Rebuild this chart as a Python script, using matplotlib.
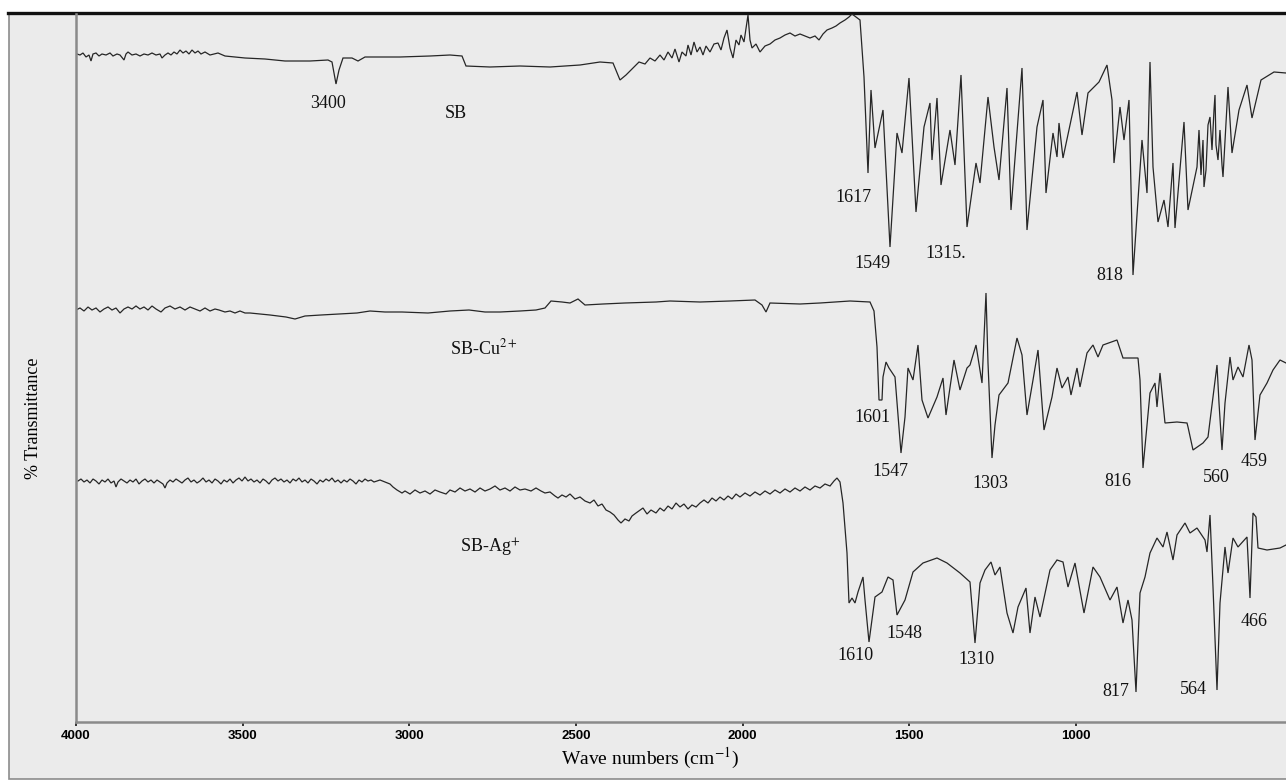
import matplotlib
matplotlib.use("Agg")
import matplotlib.pyplot as plt
from matplotlib.patches import Rectangle
from matplotlib.lines import Line2D

plt.rcParams['mathtext.fontset'] = 'stix'

# ---------------- data (wavenumber cm-1, transmittance in arbitrary offset units) -------------
sb_wn = [3997, 3988, 3979, 3970, 3961, 3955, 3949, 3940, 3931, 3922, 3910, 3898, 3889, 3877, 3868,
         3856, 3850, 3844, 3832, 3820, 3808, 3796, 3784, 3772, 3760, 3748, 3742, 3733, 3724, 3715,
         3706, 3697, 3688, 3679, 3670, 3661, 3652, 3643, 3634, 3625, 3613, 3598, 3586, 3574,
         3553, 3493, 3433, 3373, 3298, 3244, 3232, 3220, 3211, 3199, 3172, 3154, 3133,
         3028, 2938, 2878, 2842, 2830, 2758, 2668, 2578, 2488, 2428, 2389, 2368, 2350,
         2311, 2293, 2278, 2263, 2248, 2236, 2224, 2212, 2203, 2191, 2182, 2170, 2164, 2155, 2146,
         2137, 2128, 2119, 2110, 2098, 2086, 2074, 2065, 2056, 2047, 2038, 2029, 2020, 2011, 2005,
         1996, 1984, 1978, 1972, 1960, 1948, 1933, 1918, 1903, 1888, 1873, 1858, 1843, 1828, 1813,
         1798, 1783, 1771, 1759, 1747, 1732, 1720, 1708, 1693, 1681, 1672, 1660, 1648,
         1636, 1624, 1615, 1603, 1579, 1558, 1537, 1522, 1501, 1480,
         1456, 1438, 1432, 1417, 1405, 1378, 1363, 1345, 1327, 1300, 1288, 1264, 1246, 1231, 1207,
         1195, 1162, 1147, 1117, 1099, 1090, 1069, 1057, 1051, 1039, 997, 982, 964, 931, 907,
         892, 886, 868, 856, 841, 829, 802, 787, 778, 769, 754, 736, 724, 709, 703,
         676, 664, 637, 631, 625, 619, 616, 610, 604, 598, 592, 586, 583, 580, 574, 568, 562, 559,
         544, 532, 511, 487, 472, 445, 406, 370]
sb_t = [668, 667, 669, 665, 667, 661, 668, 669, 666, 668, 667, 669, 666, 668, 667,
        662, 668, 670, 667, 668, 666, 668, 667, 669, 667, 668, 664, 667, 669, 667,
        670, 668, 672, 669, 671, 668, 672, 669, 671, 668, 670, 667, 668, 669,
        666, 664, 663, 661, 661, 662, 660, 638, 652, 664, 664, 661, 665,
        665, 666, 667, 666, 656, 655, 656, 655, 657, 660, 659, 642, 647,
        660, 658, 664, 661, 667, 662, 670, 664, 673, 660, 670, 666, 677, 667, 680,
        670, 675, 667, 676, 670, 678, 679, 672, 684, 692, 674, 664, 682, 677, 687,
        680, 707, 682, 674, 678, 670, 676, 678, 682, 684, 687, 689, 686, 688, 686,
        684, 686, 682, 688, 692, 694, 696, 699, 702, 705, 708, 705, 702,
        645, 549, 632, 574, 612, 475, 589, 569, 644, 510,
        595, 619, 562, 624, 537, 592, 557, 647, 495, 559, 539, 625, 575, 542, 634,
        512, 654, 492, 595, 622, 529, 589, 565, 599, 564, 630, 587, 629, 640, 657,
        622, 559, 615, 582, 622, 447, 582, 529, 660, 555, 500, 522, 495, 559, 494,
        600, 512, 555, 592, 547, 582, 535, 552, 597, 605, 572, 612, 627, 577, 562, 592, 557, 545,
        635, 569, 612, 637, 604, 642, 650, 649]

cu_wn = [4000, 3988, 3976, 3964, 3952, 3940, 3928, 3916, 3904, 3892, 3880, 3868, 3856, 3844, 3832,
         3820, 3808, 3796, 3784, 3772, 3760, 3745, 3733, 3718, 3703, 3688, 3673, 3658, 3643, 3628,
         3613, 3598, 3583, 3571, 3553, 3538, 3523, 3508, 3493, 3478,
         3418, 3370, 3343, 3313, 3265, 3208, 3157, 3118, 3073, 3022, 2944, 2878, 2821, 2773, 2728,
         2668, 2620, 2593, 2575, 2542, 2518, 2494, 2473, 2419, 2353, 2260, 2218, 2128, 2038, 1963,
         1942, 1930, 1918, 1828, 1768, 1678, 1618, 1606, 1597, 1591, 1582, 1579, 1570, 1561, 1543,
         1525, 1513, 1504, 1489, 1474, 1462, 1444, 1417, 1399, 1390, 1366, 1348, 1327, 1318, 1300,
         1282, 1270, 1264, 1252, 1243, 1231, 1204, 1177, 1162, 1147, 1129, 1114, 1096, 1072, 1057,
         1042, 1024, 1015, 997, 988, 967, 949, 934, 919, 877, 859, 814, 808, 799, 778,
         763, 757, 748, 733, 697, 667, 664, 649, 619, 604, 589, 577, 571, 562, 553,
         538, 529, 514, 499, 481, 472, 463, 448, 427, 409, 388, 370]
cu_t = [412, 414, 411, 415, 412, 414, 410, 413, 415, 412, 414, 409, 413, 415, 413,
        416, 413, 415, 412, 416, 413, 410, 414, 416, 413, 415, 412, 415, 413, 411,
        414, 411, 413, 412, 410, 411, 409, 411, 409, 409,
        407, 405, 403, 406, 407, 408, 409, 411, 410, 410, 409, 411, 412, 410, 410,
        411, 412, 414, 421, 420, 419, 423, 417, 418, 419, 420, 421, 420, 421, 422,
        417, 410, 419, 418, 419, 421, 420, 411, 375, 322, 322, 345, 360, 354, 345,
        269, 305, 354, 342, 377, 322, 304, 325, 344, 307, 362, 332, 354, 357, 377,
        339, 429, 359, 264, 297, 327, 339, 384, 367, 307, 342, 372, 292, 325, 354,
        334, 345, 327, 354, 335, 369, 377, 365, 377, 382, 364, 364, 342, 254, 329,
        339, 315, 349, 299, 300, 299, 295, 272, 279, 285, 325, 357, 319, 272, 319,
        365, 342, 355, 345, 377, 362, 282, 327, 339, 352, 362, 359]

ag_wn = [3994, 3985, 3976, 3967, 3958, 3949, 3940, 3931, 3922, 3913, 3904, 3895, 3886, 3880, 3874,
         3865, 3856, 3847, 3838, 3829, 3820, 3811, 3802, 3793, 3784, 3775, 3766, 3757, 3748, 3739,
         3733, 3727, 3718, 3709, 3700, 3691, 3682, 3673, 3664, 3655, 3646, 3637, 3628, 3619, 3610,
         3601, 3592, 3583, 3574, 3565, 3556, 3547, 3538, 3529, 3520, 3511, 3502, 3493, 3484, 3475,
         3466, 3457, 3448, 3439, 3430, 3421, 3412, 3403, 3394, 3385, 3376, 3367, 3358, 3349, 3340,
         3331, 3322, 3313, 3304, 3295, 3286, 3277, 3268, 3259, 3250, 3241, 3232, 3223, 3214, 3205,
         3196, 3187, 3178, 3169, 3160, 3151, 3142, 3133, 3124, 3115, 3106, 3097, 3088, 3073, 3058,
         3049, 3037, 3022, 3013, 2998, 2983, 2968, 2953, 2938, 2923, 2908, 2890, 2878, 2863, 2848,
         2833, 2818, 2803, 2788, 2773, 2758, 2743, 2728, 2713, 2698, 2683, 2668, 2653, 2635, 2620,
         2605, 2593, 2578, 2563, 2554, 2542, 2530, 2518, 2503, 2488, 2473, 2458, 2446, 2434, 2422,
         2410, 2398, 2386, 2374, 2365, 2353, 2341, 2332, 2320,
         2299, 2287, 2275, 2260, 2248, 2236, 2224, 2212, 2200, 2188, 2176, 2164, 2152, 2140, 2128,
         2116, 2104, 2092, 2080, 2068, 2056, 2044, 2032, 2020, 2008, 1993, 1978, 1963, 1948, 1933,
         1918, 1903, 1888, 1873, 1858, 1843, 1828, 1813, 1798, 1783, 1768, 1753, 1738, 1726, 1717,
         1708,
         1699, 1687, 1681, 1672, 1663, 1654, 1639, 1633, 1621, 1603, 1582, 1564, 1549, 1537, 1513,
         1489, 1459, 1417, 1387, 1348, 1318, 1303, 1288, 1273, 1255, 1243, 1228, 1207, 1189, 1174,
         1150, 1138, 1123, 1108, 1078, 1057, 1039, 1024, 1003, 976, 949, 928, 898, 877, 859,
         844, 832, 820, 808, 793, 778, 757, 739, 727, 709, 697, 673, 658, 637, 613,
         607, 598, 589, 577, 568, 553, 544, 529, 514, 487, 478, 469, 460, 454, 427, 388, 370]
ag_t = [241, 243, 240, 242, 239, 243, 241, 238, 242, 240, 243, 239, 241, 235, 240,
        243, 241, 239, 242, 240, 243, 238, 241, 243, 240, 242, 239, 242, 240, 238,
        234, 239, 242, 240, 243, 241, 239, 242, 244, 240, 242, 239, 241, 244, 240,
        242, 239, 243, 241, 238, 242, 240, 243, 239, 242, 244, 241, 245, 241, 243,
        240, 242, 239, 243, 241, 238, 242, 244, 241, 243, 240, 242, 239, 243, 241,
        244, 240, 242, 239, 243, 241, 238, 242, 240, 243, 241, 244, 240, 242, 239,
        242, 240, 243, 241, 238, 242, 240, 243, 241, 242, 240, 241, 242, 240, 238,
        235, 232, 229, 231, 228, 232, 229, 231, 228, 232, 230, 228, 232, 230, 234,
        231, 233, 230, 234, 231, 233, 236, 232, 234, 231, 235, 232, 233, 231, 234,
        231, 229, 230, 226, 224, 227, 225, 228, 223, 225, 221, 219, 222, 216, 218,
        212, 210, 207, 202, 199, 203, 201, 206, 209,
        214, 208, 212, 209, 214, 211, 216, 213, 219, 215, 218, 213, 217, 215, 219,
        222, 219, 224, 221, 225, 222, 226, 223, 228, 225, 229, 226, 230, 227, 231,
        228, 232, 229, 233, 230, 234, 231, 235, 232, 236, 234, 238, 236, 241, 244,
        240,
        219, 169, 119, 124, 119, 130, 145, 122, 80, 125, 130, 145, 142, 107, 122,
        150, 159, 164, 159, 149, 140, 79, 139, 152, 160, 147, 155, 109, 89, 115,
        134, 89, 125, 105, 152, 162, 160, 135, 159, 109, 155, 145, 122, 135, 99,
        122, 102, 30, 129, 145, 169, 184, 175, 190, 162, 187, 199, 189, 194, 182,
        170, 207, 135, 32, 119, 175, 149, 184, 175, 185, 124, 209, 205, 174, 172, 174, 177]

x_ticks = [4000, 3500, 3000, 2500, 2000, 1500, 1000]

# peak annotations: (text, wavenumber, y)
annotations = [
    ('3400', 3244, 618), ('SB', 2860, 609), ('1617', 1669, 524), ('1549', 1612, 458),
    ('1315.', 1391, 469), ('818', 898, 446),
    ('SB-Cu$^{2+}$', 2776, 374), ('1601', 1610, 304), ('1547', 1558, 251), ('1303', 1256, 239),
    ('816', 874, 241), ('560', 578, 245), ('459', 466, 261),
    ('SB-Ag$^{+}$', 2758, 174), ('1610', 1663, 66), ('1548', 1516, 89), ('1310', 1298, 63),
    ('817', 880, 30), ('564', 649, 32), ('466', 466, 100),
]

# ---------------- figure ----------------
W, H = 1286, 781
fig = plt.figure(figsize=(W / 100, H / 100), dpi=100)
fig.patch.set_facecolor('white')

def fx(px):
    return px / W

def fy(py):
    return 1 - py / H

# outer frame (drawn behind the axes)
fig.patches.append(Rectangle((fx(9), fy(779)), fx(1300) - fx(9), fy(13) - fy(779),
                             transform=fig.transFigure, facecolor='#ebebeb',
                             edgecolor='#8c8c8c', linewidth=1.2, zorder=-10))
fig.lines.append(Line2D([fx(8), fx(1286)], [fy(12.7), fy(12.7)], transform=fig.transFigure,
                        color='#111111', linewidth=2.4, zorder=-5))

ax = fig.add_axes([fx(76), fy(722), fx(1286) - fx(76), fy(14) - fy(722)])
ax.set_zorder(5)
ax.patch.set_visible(False)
ax.set_xlim(4000, 370)
ax.set_ylim(0, 708)

for wn, t in [(sb_wn, sb_t), (cu_wn, cu_t), (ag_wn, ag_t)]:
    ax.plot(wn, t, color='#262626', linewidth=0.9, solid_joinstyle='miter')

for s in ['top', 'right']:
    ax.spines[s].set_visible(False)
for s in ['left', 'bottom']:
    ax.spines[s].set_color('#8a8a8a')
    ax.spines[s].set_linewidth(1.8)

ax.set_yticks([])
ax.set_xticks(x_ticks)
ax.set_xticklabels([str(v) for v in x_ticks],
                   fontdict={'family': ['Liberation Sans Narrow', 'Liberation Sans'],
                             'weight': 'bold', 'size': 9.5})
ax.tick_params(axis='x', direction='out', length=3, width=1.3, color='#222222', pad=3)

ax.set_xlabel('Wave numbers (cm$^{-1}$)', family='Liberation Serif', fontsize=14, va='center')
ax.xaxis.set_label_coords(0.474, -0.051)
fig.text(fx(33), fy(418), '% Transmittance', rotation=90, family='Liberation Serif',
         fontsize=13, ha='center', va='center')

for txt, wn, y in annotations:
    ax.text(wn, y, txt, family='Liberation Serif', fontsize=13, ha='center', va='center',
            color='#111111')

fig.savefig('out.png', dpi=100, facecolor=fig.get_facecolor())
